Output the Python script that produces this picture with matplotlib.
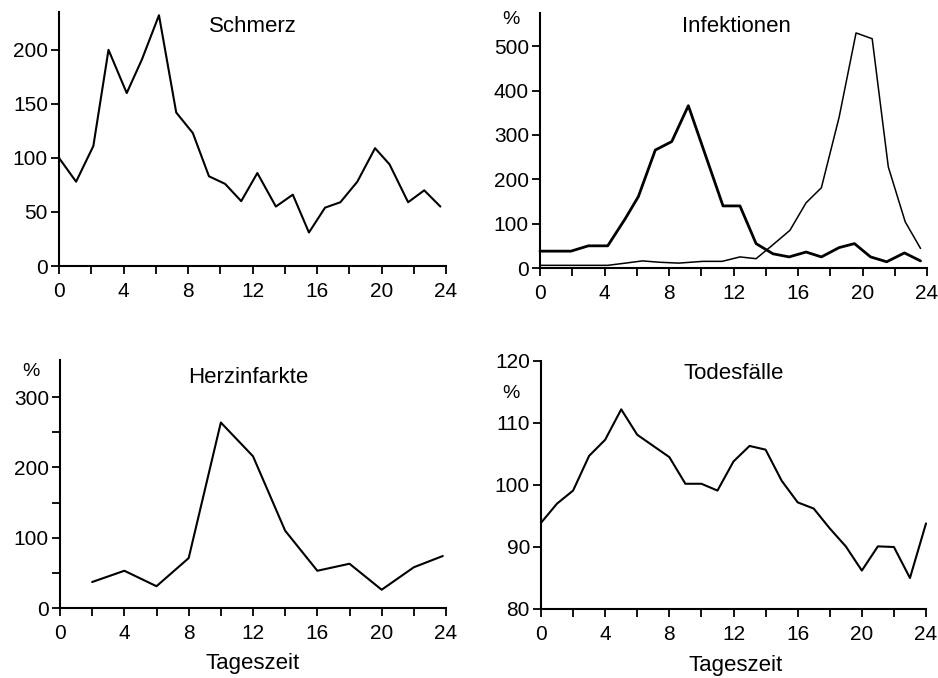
import matplotlib
matplotlib.use("Agg")
import matplotlib.pyplot as plt
import numpy as np

plt.rcParams['font.family'] = ['Liberation Sans', 'DejaVu Sans']

# ---- data ----
schmerz_x = [0, 1.06, 2.13, 3.07, 4.2, 5.14, 6.2, 7.27, 8.3, 9.3, 10.3, 11.3, 12.3,
             13.45, 14.5, 15.5, 16.5, 17.45, 18.5, 19.6, 20.5, 21.65, 22.65, 23.65]
schmerz_y = [100, 78, 111, 200, 160, 191, 232, 142, 123, 83, 76, 60, 86,
             55, 66, 31, 54, 59, 78, 109, 94, 59, 70, 55]

inf_a_x = [0, 1.92, 3.0, 4.2, 5.3, 6.1, 7.15, 8.17, 9.2, 11.35, 12.4, 13.4, 14.45,
           15.45, 16.5, 17.45, 18.55, 19.5, 20.5, 21.5, 22.6, 23.6]
inf_a_y = [38, 38, 50, 50, 112, 161, 266, 285, 366, 140, 140, 55, 32,
           25, 36, 25, 46, 55, 25, 14, 34, 16]
inf_b_x = [0, 4.2, 5.3, 6.35, 7.4, 8.6, 10.1, 11.3, 12.4, 13.4, 14.4, 15.5, 16.5,
           17.45, 18.55, 19.6, 20.6, 21.6, 22.65, 23.6]
inf_b_y = [6, 6, 11, 16, 13, 11, 15, 15, 25, 21, 51, 85, 147,
           181, 340, 530, 517, 228, 104, 44]

herz_x = [2, 4, 6, 8, 10, 12, 14, 16, 18, 20, 22, 23.8]
herz_y = [37, 53, 31, 71, 264, 216, 110, 53, 63, 26, 58, 74]

tod_x = list(range(25))
tod_y = [93.9, 97.0, 99.1, 104.7, 107.3, 112.2, 108.1, 106.3, 104.5, 100.2, 100.2,
         99.1, 103.8, 106.3, 105.7, 100.7, 97.2, 96.2, 93.0, 90.1, 86.2, 90.1,
         90.0, 85.0, 93.8]

xticks = [0, 4, 8, 12, 16, 20, 24]

W, H = 938, 678
fig = plt.figure(figsize=(W / 100, H / 100), dpi=100)

TICK_FS = 15
TITLE_FS = 16


def make_ax(left, right, bottom, top):
    return fig.add_axes([left / W, 1 - bottom / H, (right - left) / W, (bottom - top) / H])


def style(ax, ylim, yticks, yminor=None):
    ax.set_xlim(0, 24)
    ax.set_ylim(*ylim)
    for s in ['top', 'right']:
        ax.spines[s].set_visible(False)
    for s in ['left', 'bottom']:
        ax.spines[s].set_linewidth(1.5)
    ax.set_xticks(xticks)
    ax.set_xticks(np.arange(0, 25, 2), minor=True)
    ax.set_yticks(yticks)
    if yminor is not None:
        ax.set_yticks(yminor, minor=True)
    ax.tick_params(which='both', direction='out', width=1.3, labelsize=TICK_FS, colors='black')
    ax.tick_params(which='major', length=6)
    ax.tick_params(which='minor', length=6)
    ax.tick_params(axis='x', which='major', pad=5.5)
    ax.tick_params(axis='y', which='major', pad=2)
    ax.patch.set_alpha(0)


lw = 1.5
kw = dict(color='black', clip_on=False, solid_joinstyle='round', solid_capstyle='round')

# Schmerz
ax1 = make_ax(59, 446, 266, 12)
ax1.plot(schmerz_x, schmerz_y, lw=lw, **kw)
style(ax1, (0, 235), [0, 50, 100, 150, 200])
ax1.text(12, 222, 'Schmerz', ha='center', va='center', fontsize=TITLE_FS)

# Infektionen
ax2 = make_ax(540, 927, 268, 13)
ax2.plot(inf_a_x, inf_a_y, lw=2.0, **kw)
ax2.plot(inf_b_x, inf_b_y, lw=1.1, **kw)
style(ax2, (0, 575), [0, 100, 200, 300, 400, 500])
ax2.text(12.2, 545, 'Infektionen', ha='center', va='center', fontsize=TITLE_FS)
fig.text(511 / W, 1 - 19 / H, '%', ha='center', va='center', fontsize=14)

# Herzinfarkte
ax3 = make_ax(60, 446, 608, 360)
ax3.plot(herz_x, herz_y, lw=lw, **kw)
style(ax3, (0, 353), [0, 100, 200, 300], [50, 150, 250])
ax3.text(11.7, 328, 'Herzinfarkte', ha='center', va='center', fontsize=TITLE_FS)
fig.text(31 / W, 1 - 372 / H, '%', ha='center', va='center', fontsize=14)
fig.text(253 / W, 1 - 663 / H, 'Tageszeit', ha='center', va='center', fontsize=TITLE_FS)

# Todesfälle
ax4 = make_ax(541, 926, 609, 361)
ax4.plot(tod_x, tod_y, lw=lw, **kw)
style(ax4, (80, 120), [80, 90, 100, 110, 120])
ax4.text(12, 118, 'Todesfälle', ha='center', va='center', fontsize=TITLE_FS)
fig.text(511 / W, 1 - 393 / H, '%', ha='center', va='center', fontsize=14)
fig.text(736 / W, 1 - 665 / H, 'Tageszeit', ha='center', va='center', fontsize=TITLE_FS)

fig.savefig('out.png', dpi=100)
